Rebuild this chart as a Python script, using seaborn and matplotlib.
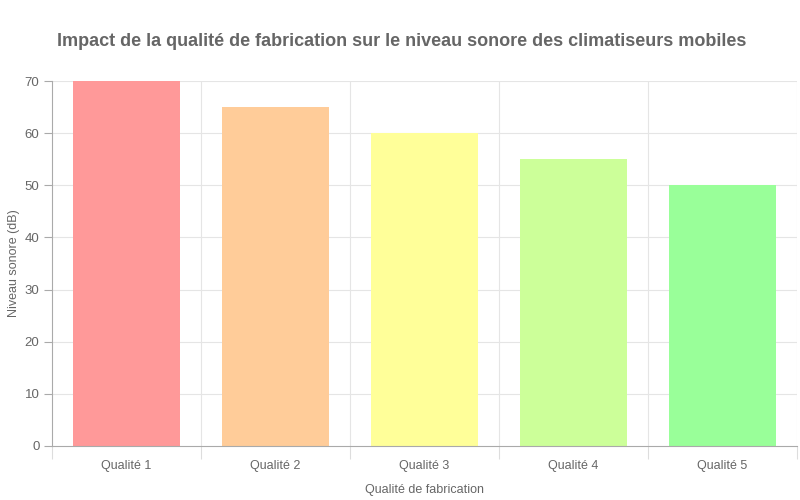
import matplotlib
matplotlib.use("Agg")
import matplotlib.pyplot as plt
import seaborn as sns
import pandas as pd
import numpy as np

categories = ["Qualité 1", "Qualité 2", "Qualité 3", "Qualité 4", "Qualité 5"]
noise_db = [70, 65, 60, 55, 50]
bar_colors = ["#FF9999", "#FFCC99", "#FFFF99", "#CCFF99", "#99FF99"]

sns.set_style("white")
plt.rcParams['font.family'] = ['Liberation Sans', 'DejaVu Sans']

df = pd.DataFrame({"categorie": categories, "niveau": noise_db})

fig = plt.figure(figsize=(8, 5), dpi=100)
ax = fig.add_axes([0.065, 0.108, 0.931, 0.730])

sns.barplot(data=df, x="categorie", y="niveau", hue="categorie",
            palette=bar_colors, width=0.72, legend=False, ax=ax,
            saturation=1, linewidth=0)

ax.set_ylim(0, 70)
ax.set_xlim(-0.5, len(categories) - 0.5)
ax.set_yticks(np.arange(0, 71, 10))

# grid: horizontal at ticks, vertical at category boundaries
grid_c = "#e5e5e5"
for y in range(10, 71, 10):
    ax.axhline(y, color=grid_c, lw=0.8, zorder=0)
for xb in np.arange(0.5, len(categories) - 0.5 + 1e-9, 1.0):
    ax.axvline(xb, color=grid_c, lw=0.8, zorder=0)
ax.set_axisbelow(True)

for s in ["top", "right"]:
    ax.spines[s].set_visible(False)
ax.spines["left"].set_color("#aaaaaa")
ax.spines["bottom"].set_color("#aaaaaa")
ax.spines["left"].set_linewidth(0.8)
ax.spines["bottom"].set_linewidth(0.8)

ax.set_xticks(range(len(categories)))
ax.set_xticklabels(categories)
ax.set_xticks(np.arange(-0.5, len(categories)), minor=True)
ax.tick_params(axis="x", which="major", bottom=False, length=0, pad=10, labelsize=9, labelcolor="#666666")
ax.tick_params(axis="x", which="minor", bottom=True, length=9, color="#dddddd", width=0.8)
ax.tick_params(axis="y", left=True, length=6, color="#aaaaaa", width=0.8, labelsize=9.5, labelcolor="#666666", pad=3)

ax.set_xlabel("Qualité de fabrication", fontsize=9, color="#666666", labelpad=9)
ax.set_ylabel("Niveau sonore (dB)", fontsize=9, color="#666666", labelpad=3)

fig.text(0.071, 0.916, "Impact de la qualité de fabrication sur le niveau sonore des climatiseurs mobiles",
         fontsize=13, fontweight="bold", color="#666666", ha="left", va="center")

fig.savefig("out.png", dpi=100)
